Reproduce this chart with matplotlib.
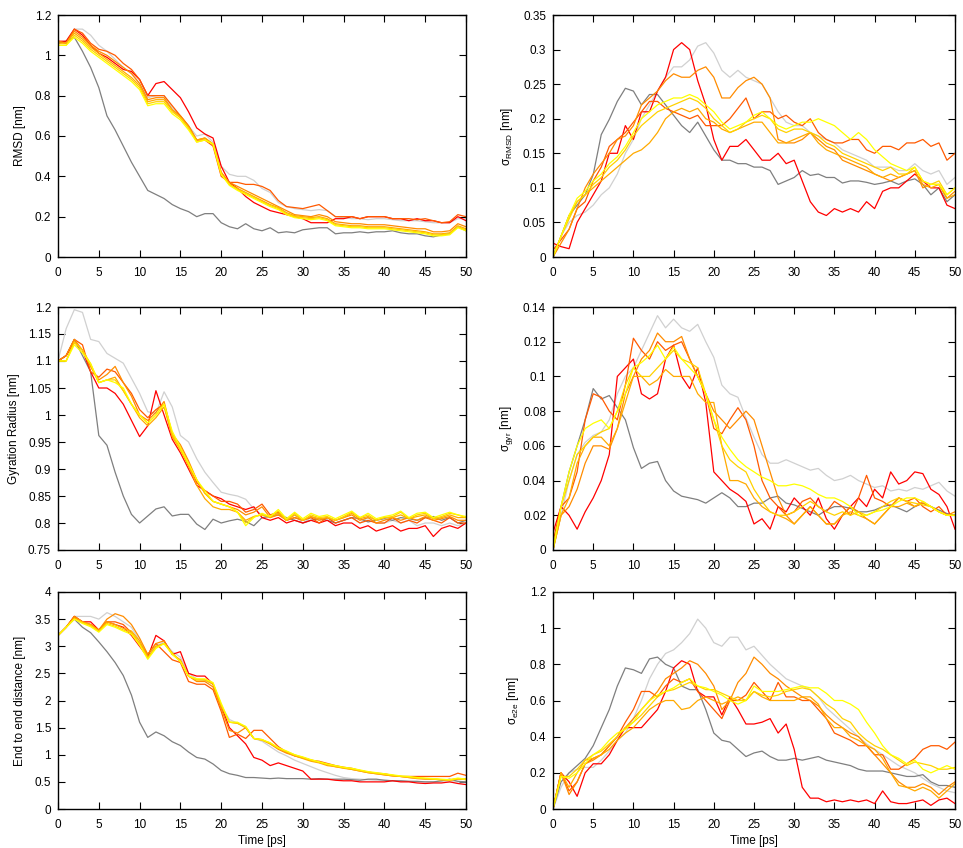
import matplotlib
matplotlib.use('Agg')
import matplotlib.pyplot as plt
from matplotlib.ticker import MultipleLocator

plt.rcParams['font.family'] = ['Liberation Sans', 'DejaVu Sans']
plt.rcParams['mathtext.fontset'] = 'custom'
plt.rcParams['mathtext.rm'] = 'Liberation Sans'
plt.rcParams['mathtext.default'] = 'regular'

# ---------------- data ----------------
time = list(range(0, 51))  # ps

series_names = ['lgray', 'dgray', 'red', 'ored', 'orange', 'amber', 'gold', 'yellow']
series_colors = {'lgray': '#d0d0d0', 'dgray': '#7f7f7f', 'red': '#ff0000', 'ored': '#ff5a00',
                 'orange': '#ff8c00', 'amber': '#ffaa00', 'gold': '#ffd200', 'yellow': '#ffff00'}

# RMSD [nm]
rmsd_dgray = [1.06,1.07,1.09,1.02,0.94,0.84,0.70,0.63,0.55,0.47,
              0.40,0.33,0.31,0.29,0.26,0.24,0.225,0.20,0.215,0.215,
              0.17,0.15,0.14,0.165,0.14,0.13,0.145,0.12,0.125,0.12,
              0.135,0.14,0.145,0.145,0.115,0.12,0.12,0.125,0.12,0.125,
              0.125,0.13,0.12,0.115,0.115,0.105,0.10,0.11,0.115,0.15,
              0.13]
rmsd_lgray = [1.06,1.07,1.13,1.13,1.10,1.05,1.02,0.98,0.94,0.91,
              0.86,0.79,0.80,0.80,0.74,0.70,0.65,0.60,0.61,0.57,
              0.45,0.41,0.40,0.40,0.38,0.34,0.32,0.27,0.25,0.24,
              0.235,0.23,0.235,0.23,0.20,0.195,0.19,0.19,0.185,0.19,
              0.19,0.185,0.18,0.18,0.18,0.175,0.17,0.17,0.17,0.19,
              0.19]
rmsd_red = [1.07,1.07,1.13,1.10,1.05,1.01,0.99,0.96,0.93,0.92,
            0.88,0.80,0.86,0.87,0.83,0.79,0.72,0.64,0.61,0.59,
            0.45,0.37,0.34,0.30,0.27,0.25,0.23,0.22,0.21,0.20,
            0.19,0.17,0.17,0.17,0.19,0.19,0.20,0.19,0.20,0.20,
            0.20,0.19,0.19,0.18,0.19,0.18,0.18,0.17,0.17,0.20,
            0.18]
rmsd_ored = [1.07,1.06,1.13,1.11,1.06,1.03,1.02,1.00,0.96,0.93,
             0.88,0.80,0.80,0.80,0.75,0.70,0.65,0.58,0.58,0.55,
             0.40,0.37,0.37,0.36,0.36,0.35,0.33,0.28,0.25,0.245,
             0.24,0.25,0.26,0.23,0.20,0.20,0.20,0.19,0.20,0.20,
             0.20,0.19,0.19,0.19,0.185,0.19,0.18,0.17,0.175,0.21,
             0.20]
rmsd_orange = [1.07,1.06,1.12,1.09,1.05,1.02,1.00,0.97,0.94,0.91,
               0.86,0.78,0.79,0.79,0.73,0.70,0.65,0.58,0.59,0.56,
               0.42,0.37,0.35,0.33,0.31,0.29,0.27,0.25,0.23,0.21,
               0.205,0.20,0.21,0.20,0.175,0.17,0.165,0.165,0.16,0.16,
               0.16,0.155,0.15,0.145,0.14,0.14,0.125,0.125,0.13,0.165,
               0.15]
rmsd_amber = [1.06,1.06,1.11,1.08,1.04,1.01,0.98,0.95,0.92,0.89,
              0.85,0.77,0.78,0.78,0.73,0.69,0.64,0.58,0.59,0.56,
              0.42,0.36,0.34,0.32,0.30,0.28,0.26,0.245,0.22,0.205,
              0.20,0.195,0.20,0.19,0.165,0.16,0.155,0.155,0.15,0.15,
              0.15,0.145,0.14,0.135,0.13,0.125,0.115,0.115,0.12,0.155,
              0.14]
rmsd_gold = [1.05,1.05,1.10,1.07,1.03,1.00,0.97,0.94,0.91,0.88,
             0.84,0.76,0.77,0.77,0.72,0.69,0.64,0.57,0.58,0.56,
             0.41,0.36,0.335,0.315,0.295,0.275,0.255,0.24,0.215,0.20,
             0.195,0.19,0.195,0.185,0.16,0.155,0.15,0.15,0.145,0.145,
             0.145,0.14,0.135,0.13,0.125,0.12,0.11,0.11,0.115,0.15,
             0.135]
rmsd_yellow = [1.05,1.05,1.09,1.06,1.02,0.99,0.96,0.93,0.90,0.87,
               0.83,0.75,0.76,0.76,0.71,0.68,0.63,0.57,0.58,0.56,
               0.41,0.355,0.33,0.31,0.29,0.27,0.25,0.235,0.21,0.195,
               0.19,0.185,0.19,0.18,0.155,0.15,0.145,0.145,0.14,0.14,
               0.14,0.135,0.13,0.125,0.12,0.115,0.105,0.105,0.11,0.145,
               0.13]

# sigma RMSD [nm]
srmsd_dgray = [0,0.03,0.06,0.075,0.09,0.119,0.177,0.199,0.225,0.244,
               0.24,0.22,0.235,0.235,0.22,0.205,0.19,0.18,0.195,0.175,
               0.155,0.14,0.14,0.135,0.135,0.13,0.13,0.125,0.105,0.11,
               0.115,0.125,0.118,0.12,0.115,0.115,0.107,0.11,0.11,0.108,
               0.105,0.107,0.11,0.105,0.11,0.113,0.105,0.09,0.10,0.08,
               0.09]
srmsd_lgray = [0,0.03,0.05,0.06,0.065,0.075,0.09,0.10,0.12,0.15,
               0.17,0.20,0.22,0.24,0.26,0.275,0.275,0.285,0.305,0.31,
               0.295,0.27,0.26,0.27,0.26,0.255,0.25,0.23,0.21,0.195,
               0.19,0.19,0.18,0.175,0.17,0.165,0.155,0.15,0.145,0.14,
               0.13,0.13,0.13,0.125,0.125,0.135,0.125,0.12,0.125,0.105,
               0.115]
srmsd_red = [0.02,0.015,0.012,0.05,0.07,0.09,0.11,0.15,0.15,0.19,
             0.17,0.21,0.21,0.24,0.26,0.30,0.31,0.30,0.255,0.22,
             0.17,0.14,0.16,0.16,0.17,0.155,0.14,0.14,0.15,0.135,
             0.14,0.11,0.08,0.065,0.06,0.07,0.065,0.07,0.065,0.08,
             0.07,0.095,0.10,0.10,0.11,0.12,0.11,0.10,0.10,0.075,
             0.07]
srmsd_ored = [0.01,0.025,0.04,0.07,0.08,0.11,0.13,0.16,0.17,0.18,
              0.195,0.21,0.225,0.225,0.215,0.21,0.205,0.20,0.205,0.19,
              0.19,0.19,0.20,0.215,0.23,0.20,0.21,0.21,0.20,0.205,
              0.195,0.19,0.20,0.18,0.17,0.165,0.165,0.17,0.17,0.155,
              0.15,0.16,0.16,0.155,0.165,0.165,0.17,0.16,0.165,0.14,
              0.15]
srmsd_orange = [0,0.02,0.04,0.07,0.10,0.12,0.135,0.15,0.17,0.175,
                0.19,0.22,0.23,0.24,0.255,0.265,0.26,0.26,0.27,0.275,
                0.26,0.23,0.23,0.245,0.255,0.26,0.25,0.23,0.17,0.165,
                0.165,0.17,0.18,0.17,0.16,0.155,0.14,0.135,0.13,0.125,
                0.12,0.115,0.11,0.115,0.12,0.125,0.10,0.105,0.105,0.085,
                0.095]
srmsd_amber = [0,0.03,0.06,0.08,0.09,0.10,0.11,0.12,0.13,0.14,
               0.15,0.155,0.165,0.18,0.20,0.21,0.215,0.21,0.215,0.20,
               0.195,0.185,0.18,0.185,0.19,0.195,0.195,0.18,0.165,0.165,
               0.17,0.175,0.18,0.165,0.155,0.15,0.145,0.14,0.135,0.13,
               0.12,0.115,0.12,0.115,0.12,0.125,0.105,0.10,0.105,0.085,
               0.09]
srmsd_gold = [0,0.03,0.055,0.08,0.09,0.105,0.115,0.13,0.14,0.155,
              0.175,0.19,0.20,0.21,0.215,0.22,0.225,0.23,0.225,0.215,
              0.20,0.19,0.18,0.185,0.195,0.20,0.205,0.20,0.185,0.18,
              0.185,0.185,0.18,0.175,0.165,0.16,0.15,0.145,0.14,0.135,
              0.13,0.125,0.13,0.12,0.12,0.13,0.11,0.105,0.11,0.09,
              0.10]
srmsd_yellow = [0,0.03,0.06,0.085,0.095,0.11,0.12,0.135,0.145,0.16,
                0.18,0.20,0.21,0.22,0.225,0.23,0.23,0.235,0.23,0.22,
                0.21,0.195,0.185,0.19,0.195,0.205,0.21,0.20,0.19,0.185,
                0.19,0.195,0.195,0.20,0.195,0.19,0.18,0.17,0.18,0.17,
                0.155,0.145,0.135,0.13,0.125,0.13,0.11,0.105,0.105,0.09,
                0.10]

# Gyration radius [nm]
gyr_dgray = [1.10,1.11,1.14,1.11,1.08,0.962,0.944,0.894,0.85,0.816,
             0.80,0.813,0.826,0.83,0.813,0.816,0.816,0.798,0.788,0.807,
             0.80,0.804,0.807,0.803,0.795,0.81,0.812,0.815,0.81,0.805,
             0.80,0.805,0.808,0.805,0.80,0.805,0.81,0.808,0.802,0.805,
             0.808,0.805,0.81,0.808,0.805,0.81,0.812,0.805,0.81,0.80,
             0.805]
gyr_lgray = [1.10,1.16,1.195,1.19,1.14,1.136,1.114,1.105,1.096,1.068,
             1.04,1.006,1.003,1.043,1.015,0.962,0.95,0.919,0.894,0.875,
             0.857,0.853,0.85,0.844,0.826,0.815,0.812,0.82,0.805,0.815,
             0.80,0.81,0.805,0.81,0.80,0.805,0.81,0.80,0.81,0.80,
             0.80,0.805,0.80,0.805,0.795,0.80,0.80,0.795,0.80,0.795,
             0.80]
gyr_red = [1.10,1.11,1.135,1.12,1.08,1.05,1.05,1.04,1.02,0.99,
           0.96,0.98,1.045,1.00,0.955,0.93,0.90,0.87,0.86,0.85,
           0.845,0.835,0.83,0.825,0.83,0.81,0.805,0.81,0.80,0.805,
           0.80,0.805,0.80,0.805,0.795,0.80,0.80,0.79,0.795,0.785,
           0.79,0.795,0.785,0.79,0.79,0.795,0.775,0.79,0.795,0.79,
           0.80]
gyr_ored = [1.10,1.11,1.14,1.13,1.08,1.07,1.085,1.08,1.06,1.04,
            1.01,0.995,1.01,1.02,0.96,0.94,0.91,0.875,0.86,0.85,
            0.84,0.84,0.835,0.82,0.825,0.835,0.815,0.82,0.805,0.81,
            0.805,0.81,0.80,0.81,0.80,0.805,0.81,0.80,0.805,0.80,
            0.80,0.81,0.80,0.805,0.80,0.81,0.805,0.80,0.81,0.80,
            0.80]
gyr_orange = [1.10,1.11,1.14,1.12,1.09,1.065,1.075,1.09,1.06,1.035,
              1.00,0.99,1.005,1.025,0.965,0.945,0.915,0.88,0.855,0.84,
              0.835,0.83,0.825,0.815,0.82,0.83,0.81,0.815,0.805,0.81,
              0.805,0.812,0.805,0.81,0.805,0.81,0.815,0.805,0.81,0.80,
              0.805,0.81,0.805,0.81,0.805,0.812,0.805,0.808,0.812,0.805,
              0.805]
gyr_amber = [1.10,1.10,1.135,1.12,1.09,1.06,1.065,1.07,1.045,1.02,
             0.995,0.98,0.995,1.015,0.96,0.935,0.905,0.87,0.845,0.83,
             0.825,0.825,0.82,0.805,0.812,0.815,0.81,0.818,0.805,0.815,
             0.805,0.812,0.808,0.81,0.805,0.81,0.818,0.808,0.812,0.805,
             0.81,0.81,0.815,0.808,0.812,0.815,0.808,0.81,0.815,0.81,
             0.81]
gyr_gold = [1.10,1.10,1.135,1.12,1.095,1.06,1.065,1.065,1.045,1.02,
            1.00,0.985,1.00,1.02,0.965,0.935,0.91,0.88,0.855,0.84,
            0.835,0.83,0.82,0.80,0.812,0.815,0.812,0.822,0.805,0.818,
            0.805,0.815,0.81,0.812,0.805,0.812,0.82,0.81,0.815,0.805,
            0.81,0.812,0.82,0.808,0.815,0.818,0.808,0.812,0.818,0.815,
            0.81]
gyr_yellow = [1.10,1.10,1.13,1.115,1.095,1.06,1.065,1.06,1.05,1.02,
              1.00,0.985,1.00,1.02,0.97,0.94,0.91,0.88,0.86,0.84,
              0.835,0.83,0.82,0.795,0.81,0.818,0.812,0.825,0.808,0.82,
              0.808,0.818,0.812,0.815,0.808,0.815,0.822,0.81,0.818,0.808,
              0.812,0.815,0.822,0.81,0.818,0.82,0.81,0.815,0.82,0.815,
              0.812]

# sigma gyration [nm]
sgyr_dgray = [0,0.025,0.045,0.06,0.075,0.093,0.087,0.089,0.082,0.075,
              0.059,0.047,0.05,0.051,0.04,0.034,0.031,0.03,0.029,0.027,
              0.03,0.033,0.03,0.025,0.025,0.027,0.027,0.03,0.031,0.027,
              0.026,0.024,0.022,0.02,0.023,0.025,0.025,0.024,0.022,0.022,
              0.023,0.025,0.026,0.024,0.022,0.025,0.027,0.025,0.023,0.021,
              0.02]
sgyr_lgray = [0,0.02,0.04,0.055,0.062,0.066,0.068,0.075,0.09,0.10,
              0.105,0.115,0.125,0.135,0.128,0.133,0.128,0.126,0.13,0.12,
              0.111,0.095,0.09,0.088,0.076,0.065,0.055,0.05,0.05,0.052,
              0.05,0.048,0.046,0.047,0.043,0.04,0.041,0.043,0.04,0.038,
              0.036,0.037,0.034,0.035,0.034,0.036,0.035,0.037,0.039,0.034,
              0.031]
sgyr_red = [0.01,0.025,0.02,0.012,0.022,0.03,0.04,0.055,0.10,0.105,
            0.11,0.09,0.087,0.09,0.11,0.118,0.10,0.093,0.105,0.085,
            0.045,0.04,0.035,0.032,0.028,0.015,0.018,0.012,0.025,0.022,
            0.03,0.025,0.02,0.03,0.018,0.012,0.02,0.025,0.03,0.025,
            0.035,0.03,0.045,0.038,0.04,0.045,0.044,0.035,0.032,0.025,
            0.012]
sgyr_ored = [0.005,0.025,0.03,0.045,0.075,0.09,0.088,0.08,0.075,0.095,
             0.122,0.115,0.11,0.12,0.115,0.118,0.12,0.11,0.10,0.09,
             0.07,0.067,0.075,0.082,0.075,0.06,0.04,0.03,0.025,0.02,
             0.022,0.028,0.03,0.025,0.022,0.028,0.025,0.02,0.03,0.043,
             0.03,0.028,0.025,0.03,0.028,0.03,0.025,0.022,0.025,0.02,
             0.02]
sgyr_orange = [0,0.02,0.025,0.035,0.05,0.06,0.06,0.058,0.07,0.09,
               0.10,0.11,0.115,0.125,0.12,0.12,0.123,0.11,0.10,0.09,
               0.08,0.075,0.07,0.075,0.08,0.075,0.06,0.045,0.03,0.02,
               0.015,0.02,0.025,0.02,0.015,0.015,0.02,0.025,0.022,0.018,
               0.015,0.02,0.025,0.03,0.028,0.025,0.027,0.025,0.022,0.02,
               0.022]
sgyr_amber = [0,0.02,0.03,0.05,0.06,0.065,0.065,0.06,0.07,0.085,
              0.10,0.10,0.095,0.098,0.104,0.10,0.10,0.10,0.09,0.085,
              0.085,0.06,0.04,0.04,0.038,0.03,0.025,0.022,0.02,0.018,
              0.015,0.02,0.025,0.02,0.015,0.015,0.02,0.022,0.02,0.018,
              0.015,0.02,0.025,0.025,0.027,0.025,0.028,0.025,0.022,0.02,
              0.02]
sgyr_gold = [0,0.025,0.04,0.055,0.06,0.065,0.068,0.07,0.08,0.095,
             0.105,0.10,0.10,0.105,0.11,0.115,0.11,0.108,0.105,0.09,
             0.075,0.06,0.052,0.048,0.045,0.035,0.028,0.022,0.02,0.02,
             0.022,0.025,0.028,0.025,0.022,0.02,0.022,0.02,0.022,0.02,
             0.022,0.025,0.028,0.03,0.028,0.027,0.026,0.025,0.022,0.02,
             0.02]
sgyr_yellow = [0,0.025,0.045,0.06,0.07,0.073,0.075,0.07,0.08,0.09,
               0.105,0.108,0.112,0.118,0.11,0.117,0.11,0.105,0.10,0.09,
               0.075,0.065,0.058,0.052,0.048,0.045,0.042,0.04,0.037,0.037,
               0.038,0.037,0.035,0.032,0.03,0.03,0.028,0.025,0.02,0.02,
               0.022,0.023,0.025,0.028,0.03,0.03,0.028,0.025,0.022,0.02,
               0.02]

# End to end distance [nm]
e2e_dgray = [3.2,3.35,3.5,3.35,3.25,3.08,2.9,2.7,2.46,2.1,
             1.6,1.32,1.42,1.35,1.24,1.17,1.05,0.95,0.92,0.83,
             0.71,0.65,0.62,0.58,0.58,0.57,0.56,0.57,0.56,0.56,
             0.56,0.55,0.56,0.55,0.55,0.55,0.54,0.53,0.55,0.55,
             0.53,0.52,0.52,0.51,0.51,0.50,0.50,0.52,0.55,0.51,
             0.50]
e2e_lgray = [3.2,3.35,3.55,3.55,3.55,3.5,3.62,3.55,3.45,3.35,
             3.1,2.85,3.0,3.08,2.9,2.8,2.5,2.4,2.37,2.3,
             1.9,1.65,1.58,1.5,1.3,1.25,1.15,1.05,0.98,0.9,
             0.84,0.78,0.72,0.67,0.62,0.58,0.56,0.55,0.54,0.53,
             0.53,0.52,0.52,0.51,0.5,0.5,0.5,0.5,0.5,0.5,
             0.5]
e2e_red = [3.2,3.35,3.55,3.45,3.45,3.3,3.45,3.4,3.35,3.2,
           3.0,2.8,3.2,3.1,2.85,2.9,2.5,2.45,2.45,2.3,
           1.9,1.5,1.35,1.2,0.95,0.9,0.8,0.85,0.8,0.75,
           0.7,0.55,0.55,0.55,0.53,0.52,0.52,0.5,0.5,0.5,
           0.5,0.52,0.5,0.5,0.48,0.47,0.48,0.48,0.5,0.47,
           0.45]
e2e_ored = [3.2,3.35,3.55,3.45,3.4,3.3,3.45,3.45,3.4,3.25,
            3.05,2.85,3.05,2.9,2.75,2.7,2.35,2.3,2.3,2.2,
            1.8,1.32,1.38,1.3,1.45,1.45,1.3,1.15,1.05,0.98,
            0.95,0.9,0.88,0.84,0.8,0.77,0.75,0.71,0.68,0.66,
            0.65,0.62,0.6,0.6,0.6,0.6,0.6,0.6,0.6,0.66,
            0.62]
e2e_orange = [3.2,3.35,3.55,3.45,3.4,3.3,3.5,3.6,3.55,3.4,
              3.15,2.85,3.05,3.1,2.85,2.75,2.45,2.35,2.35,2.25,
              1.85,1.45,1.4,1.5,1.3,1.28,1.2,1.1,1.03,0.98,
              0.94,0.9,0.86,0.82,0.78,0.76,0.73,0.7,0.67,0.65,
              0.63,0.61,0.6,0.58,0.56,0.55,0.55,0.54,0.54,0.56,
              0.55]
e2e_amber = [3.2,3.35,3.52,3.45,3.4,3.28,3.45,3.4,3.33,3.28,
             3.1,2.8,3.0,3.05,2.88,2.72,2.45,2.38,2.38,2.3,
             1.9,1.6,1.58,1.5,1.3,1.27,1.2,1.12,1.05,0.98,
             0.93,0.88,0.85,0.8,0.78,0.75,0.73,0.7,0.67,0.65,
             0.63,0.61,0.6,0.58,0.57,0.56,0.55,0.54,0.53,0.55,
             0.55]
e2e_gold = [3.2,3.35,3.5,3.43,3.38,3.27,3.42,3.37,3.3,3.25,
            3.05,2.78,2.98,3.05,2.86,2.72,2.45,2.38,2.38,2.32,
            1.92,1.6,1.58,1.52,1.3,1.27,1.22,1.12,1.06,1.0,
            0.95,0.9,0.86,0.82,0.79,0.76,0.74,0.71,0.68,0.66,
            0.64,0.62,0.6,0.59,0.57,0.56,0.55,0.54,0.53,0.56,
            0.54]
e2e_yellow = [3.2,3.35,3.5,3.42,3.36,3.26,3.4,3.35,3.28,3.22,
              3.02,2.76,2.96,3.05,2.85,2.72,2.45,2.4,2.4,2.33,
              1.95,1.6,1.6,1.52,1.3,1.28,1.22,1.13,1.07,1.0,
              0.96,0.91,0.87,0.83,0.8,0.77,0.75,0.72,0.69,0.67,
              0.65,0.63,0.61,0.6,0.58,0.57,0.56,0.55,0.54,0.57,
              0.55]

# sigma end to end [nm]
se2e_dgray = [0,0.15,0.2,0.24,0.28,0.35,0.45,0.55,0.68,0.78,
              0.77,0.75,0.83,0.84,0.8,0.78,0.68,0.66,0.66,0.55,
              0.42,0.38,0.37,0.33,0.29,0.31,0.32,0.29,0.27,0.27,
              0.28,0.27,0.28,0.29,0.27,0.26,0.25,0.24,0.22,0.21,
              0.21,0.21,0.2,0.19,0.18,0.18,0.19,0.15,0.13,0.13,
              0.12]
se2e_lgray = [0,0.12,0.2,0.22,0.23,0.23,0.27,0.32,0.38,0.42,
              0.5,0.6,0.72,0.8,0.86,0.88,0.92,0.97,1.05,1.0,
              0.92,0.9,0.95,0.95,0.88,0.9,0.85,0.8,0.76,0.72,
              0.7,0.68,0.66,0.62,0.56,0.52,0.48,0.44,0.4,0.36,
              0.33,0.3,0.27,0.24,0.22,0.2,0.17,0.14,0.12,0.1,
              0.09]
se2e_red = [0,0.2,0.15,0.07,0.2,0.25,0.25,0.3,0.38,0.45,
            0.45,0.45,0.5,0.55,0.65,0.78,0.82,0.8,0.65,0.62,
            0.62,0.52,0.62,0.55,0.47,0.47,0.48,0.5,0.42,0.47,
            0.33,0.12,0.06,0.06,0.04,0.05,0.04,0.05,0.04,0.05,
            0.03,0.1,0.04,0.03,0.03,0.04,0.05,0.02,0.05,0.06,
            0.03]
se2e_ored = [0,0.2,0.1,0.15,0.25,0.28,0.3,0.35,0.4,0.48,
             0.55,0.65,0.65,0.62,0.68,0.72,0.7,0.72,0.65,0.6,
             0.55,0.5,0.6,0.6,0.63,0.7,0.65,0.6,0.7,0.62,
             0.62,0.6,0.6,0.55,0.5,0.42,0.4,0.38,0.35,0.35,
             0.3,0.3,0.22,0.22,0.25,0.28,0.33,0.35,0.35,0.33,
             0.37]
se2e_orange = [0,0.2,0.08,0.15,0.25,0.27,0.3,0.35,0.4,0.45,
               0.5,0.55,0.6,0.65,0.72,0.75,0.78,0.82,0.8,0.75,
               0.68,0.55,0.6,0.7,0.75,0.84,0.8,0.75,0.72,0.68,
               0.65,0.62,0.6,0.57,0.52,0.48,0.45,0.42,0.4,0.35,
               0.3,0.25,0.2,0.15,0.12,0.12,0.14,0.12,0.08,0.12,
               0.15]
se2e_amber = [0,0.2,0.12,0.2,0.27,0.28,0.3,0.33,0.38,0.42,
              0.45,0.5,0.55,0.58,0.6,0.6,0.55,0.56,0.6,0.62,
              0.6,0.58,0.6,0.62,0.6,0.65,0.62,0.6,0.6,0.6,
              0.6,0.62,0.62,0.58,0.5,0.45,0.45,0.4,0.38,0.35,
              0.33,0.28,0.2,0.13,0.12,0.1,0.12,0.1,0.06,0.1,
              0.14]
se2e_gold = [0,0.18,0.18,0.22,0.27,0.3,0.32,0.36,0.4,0.45,
             0.48,0.52,0.57,0.62,0.65,0.66,0.68,0.7,0.68,0.66,
             0.66,0.64,0.62,0.6,0.6,0.65,0.63,0.62,0.63,0.65,
             0.66,0.67,0.66,0.62,0.58,0.55,0.5,0.48,0.42,0.38,
             0.35,0.33,0.3,0.27,0.24,0.26,0.25,0.24,0.22,0.22,
             0.23]
se2e_yellow = [0,0.18,0.17,0.2,0.25,0.3,0.33,0.38,0.42,0.44,
               0.48,0.55,0.6,0.63,0.65,0.67,0.7,0.72,0.68,0.67,
               0.65,0.63,0.6,0.58,0.6,0.68,0.65,0.65,0.65,0.66,
               0.67,0.68,0.67,0.67,0.64,0.6,0.6,0.58,0.55,0.48,
               0.42,0.35,0.3,0.28,0.25,0.27,0.22,0.2,0.22,0.24,
               0.22]

panels = [
    dict(ylabel='RMSD [nm]', ylim=(0, 1.2), step=0.2,
         data=dict(lgray=rmsd_lgray, dgray=rmsd_dgray, red=rmsd_red, ored=rmsd_ored,
                   orange=rmsd_orange, amber=rmsd_amber, gold=rmsd_gold, yellow=rmsd_yellow)),
    dict(ylabel='σ$_{RMSD}$ [nm]', ylim=(0, 0.35), step=0.05,
         data=dict(lgray=srmsd_lgray, dgray=srmsd_dgray, red=srmsd_red, ored=srmsd_ored,
                   orange=srmsd_orange, amber=srmsd_amber, gold=srmsd_gold, yellow=srmsd_yellow)),
    dict(ylabel='Gyration Radius [nm]', ylim=(0.75, 1.2), step=0.05,
         data=dict(lgray=gyr_lgray, dgray=gyr_dgray, red=gyr_red, ored=gyr_ored,
                   orange=gyr_orange, amber=gyr_amber, gold=gyr_gold, yellow=gyr_yellow)),
    dict(ylabel='σ$_{gyr}$ [nm]', ylim=(0, 0.14), step=0.02,
         data=dict(lgray=sgyr_lgray, dgray=sgyr_dgray, red=sgyr_red, ored=sgyr_ored,
                   orange=sgyr_orange, amber=sgyr_amber, gold=sgyr_gold, yellow=sgyr_yellow)),
    dict(ylabel='End to end distance [nm]', ylim=(0, 4), step=0.5,
         data=dict(lgray=e2e_lgray, dgray=e2e_dgray, red=e2e_red, ored=e2e_ored,
                   orange=e2e_orange, amber=e2e_amber, gold=e2e_gold, yellow=e2e_yellow)),
    dict(ylabel='σ$_{e2e}$ [nm]', ylim=(0, 1.2), step=0.2,
         data=dict(lgray=se2e_lgray, dgray=se2e_dgray, red=se2e_red, ored=se2e_ored,
                   orange=se2e_orange, amber=se2e_amber, gold=se2e_gold, yellow=se2e_yellow)),
]

# ---------------- layout ----------------
W, H = 963, 848
fig = plt.figure(figsize=(W / 100, H / 100), dpi=100)
cols = [(58, 466), (553, 955)]
rows = [(15, 257), (307, 550), (592, 809)]


def fmt_g(v, pos):
    return ('%.3f' % v).rstrip('0').rstrip('.')


for i, p in enumerate(panels):
    r, c = divmod(i, 2)
    x0, x1 = cols[c]
    y0, y1 = rows[r]
    ax = fig.add_axes([x0 / W, 1 - y1 / H, (x1 - x0) / W, (y1 - y0) / H])
    for name in series_names:
        ax.plot(time, p['data'][name], color=series_colors[name], lw=0.9)
    ax.set_xlim(0, 50)
    ax.set_ylim(*p['ylim'])
    ax.xaxis.set_major_locator(MultipleLocator(5))
    ax.yaxis.set_major_locator(MultipleLocator(p['step']))
    ax.yaxis.set_major_formatter(plt.FuncFormatter(fmt_g))
    ax.tick_params(direction='in', top=True, right=True, length=5, width=0.8,
                   labelsize=8.5)
    ax.tick_params(axis='x', pad=7)
    ax.tick_params(axis='y', pad=5)
    for s in ax.spines.values():
        s.set_linewidth(1.0)
    ax.set_ylabel(p['ylabel'], fontsize=8.5, labelpad=6)
    if r == 2:
        ax.set_xlabel('Time [ps]', fontsize=8.5, labelpad=3)

fig.savefig('out.png', dpi=100)
